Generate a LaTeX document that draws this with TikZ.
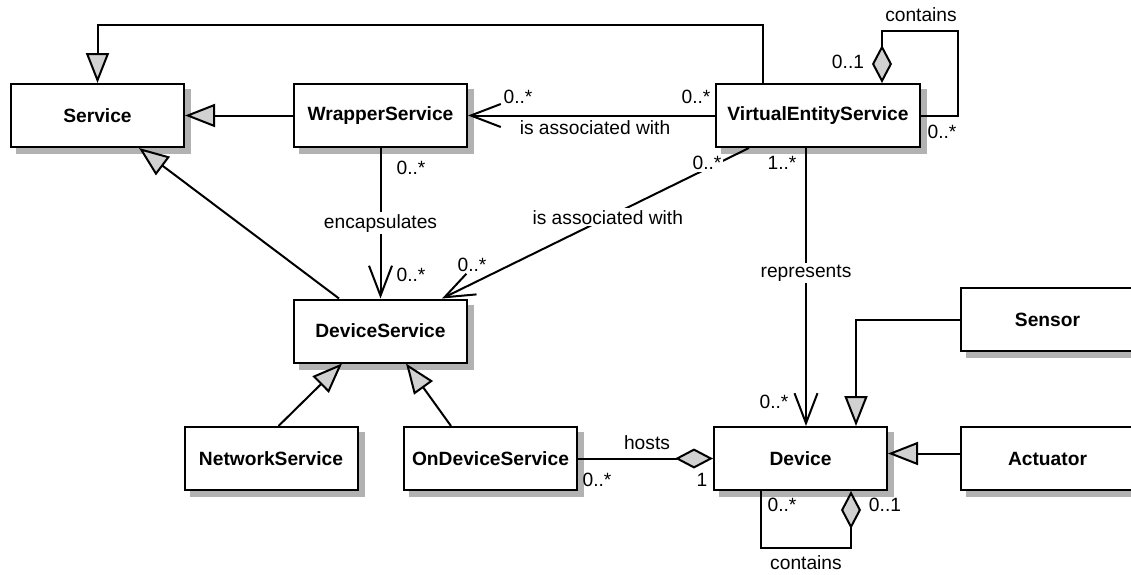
\documentclass[tikz,border=0pt]{standalone}
\usepackage{fontspec}
\setmainfont{Liberation Sans}
\usetikzlibrary{arrows.meta, calc, backgrounds}
\colorlet{headGray}{black!18}
\colorlet{shadowGray}{black!30}

\begin{document}
\begin{tikzpicture}[x=0.5pt, y=-0.5pt,
    cls/.style={rectangle, draw, line width=1pt, fill=white, minimum width=86.5pt, minimum height=31.5pt,
      font=\fontsize{9.6}{11}\selectfont\bfseries, inner sep=0pt},
    lbl/.style={font=\fontsize{9.6}{11}\selectfont, inner sep=1pt},
    gen/.style={-{Triangle[length=15pt, width=11.5pt, fill=headGray]}, line width=1pt},
    assoc/.style={-{Straight Barb[length=15pt, width=11.5pt]}, line width=1pt},
    aggr/.style={{Diamond[length=19pt, width=10pt, fill=headGray]}-, line width=1pt}
  ]
  \useasboundingbox (0,0) rectangle (1131,574);

  % classes
  \node[cls] (service) at (97.5,115.5) {Service};
  \node[cls] (wrapper) at (380.5,115.5) {WrapperService};
  \node[cls, minimum width=102pt] (ves) at (818,115.5) {VirtualEntityService};
  \node[cls] (devsvc) at (380.5,331) {DeviceService};
  \node[cls] (netsvc) at (271,458.5) {NetworkService};
  \node[cls] (ondev) at (490.5,458.5) {OnDeviceService};
  \node[cls] (device) at (800.5,458.5) {Device};
  \node[cls] (sensor) at (1047.5,319.5) {Sensor};
  \node[cls] (actuator) at (1047.5,458.5) {Actuator};

  % shadows
  \begin{scope}[on background layer]
    \foreach \n in {service,wrapper,ves,devsvc,netsvc,ondev,device,sensor,actuator}
      \fill[shadowGray] ($(\n.south west)+(6,6)$) rectangle ($(\n.north east)+(6,6)$);
  \end{scope}

  % generalizations
  \draw[gen] ($(ves.north west)+(48,0)$) -- ++(0,-58) -| (service.north);
  \draw[gen] (wrapper) -- (service);
  \draw[gen] ($(devsvc.north west)+(46,0)$) -- ($(service.south west)+(129,0)$);
  \draw[gen] ($(netsvc.north west)+(95,0)$) -- ($(devsvc.south west)+(49,0)$);
  \draw[gen] ($(ondev.north west)+(48,0)$) -- ($(devsvc.south west)+(113,0)$);
  \draw[gen] (sensor.west) -| ($(device.north west)+(143,0)$);
  \draw[gen] ($(actuator.west)+(0,-5)$) -- ($(device.east)+(0,-5)$);

  % associations
  \draw[assoc] (ves) -- (wrapper);
  \node[lbl] (mWra) at (518,97) {0..*};
  \node[lbl] (mVes) at (696,97) {0..*};
  \node[lbl] (assocA) at (595,128) {is associated with};

  \draw[assoc] (wrapper) -- node[lbl, fill=white] (encap) {encapsulates} (devsvc);
  \node[lbl] (mEncTop) at (411,168) {0..*};
  \node[lbl] (mEncBot) at (411,275) {0..*};

  \draw[assoc] ($(ves.south west)+(34,0)$) -- node[lbl, fill=white, pos=0.46] (assocB) {is associated with}
    ($(devsvc.north west)+(149,0)$);
  \node[lbl, fill=white] (mDiagTop) at (707,163) {0..*};
  \node[lbl] (mDiagBot) at (472,265) {0..*};

  \draw[assoc] ($(ves.south west)+(91,0)$) -- node[lbl, fill=white, pos=0.45] (repr) {represents}
    ($(device.north west)+(93,0)$);
  \node[lbl] (mRepTop) at (782,163) {1..*};
  \node[lbl] (mRepBot) at (774,402) {0..*};

  % aggregations
  \draw[aggr] (device.west) -- (ondev.east);
  \node[lbl] (hosts) at (647,443) {hosts};
  \node[lbl] (mHostL) at (597,480) {0..*};
  \node[lbl] (mHostR) at (702,480) {1};

  \draw[aggr] ($(ves.north west)+(167,0)$) -- ++(0,-52) -| ($(ves.east)+(37,0)$) -- (ves.east);
  \node[lbl] (contTop) at (921,15) {contains};
  \node[lbl] (mVesA) at (848,62) {0..1};
  \node[lbl] (mVesB) at (942,132) {0..*};

  \draw[aggr] ($(device.south west)+(138,0)$) -- ++(0,57) -| ($(device.south west)+(48,0)$);
  \node[lbl] (contBot) at (806,563) {contains};
  \node[lbl] (mDevA) at (782,505) {0..*};
  \node[lbl] (mDevB) at (885,505) {0..1};
\end{tikzpicture}
\end{document}
